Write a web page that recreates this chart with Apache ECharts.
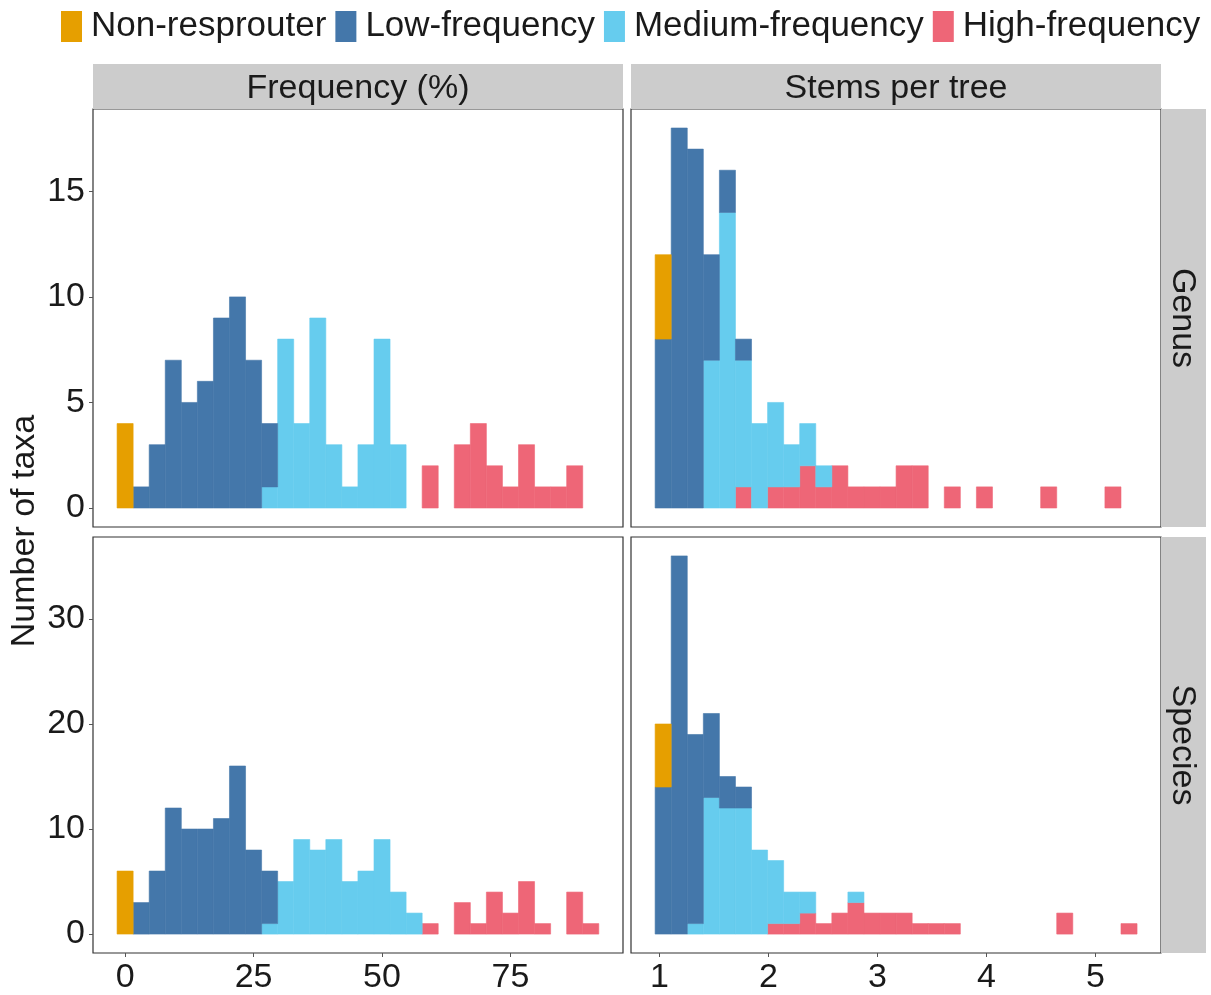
<!DOCTYPE html>
<html>
<head>
<meta charset="utf-8">
<title>Resprouting histograms</title>
<script src="https://cdn.jsdelivr.net/npm/echarts@6/dist/echarts.min.js"></script>
<style>
  html, body { margin: 0; padding: 0; background: #fff; }
  #main { width: 1211px; height: 995px; }
</style>
</head>
<body>
<div id="main"></div>
<script>
var groups = ['Non-resprouter', 'Low-frequency', 'Medium-frequency', 'High-frequency'];
var groupColors = ['#E69F00', '#4477AA', '#66CCEE', '#EE6677'];
var colLabels = ['Frequency (%)', 'Stems per tree'];
var rowLabels = ['Genus', 'Species'];
var freqTicks = [0, 25, 50, 75];
var stemTicks = [1, 2, 3, 4, 5];
var genusTicks = [0, 5, 10, 15];
var speciesTicks = [0, 10, 20, 30];

// 30 bins per panel: centre of the first bin and bin width
var freqBinStart = 0, freqBinWidth = 3.125;
var stemBinStart = 1.035, stemBinWidth = 0.1473;

// Genus, Frequency (%)
var genusFreqNon  = [4,0,0,0,0,0,0,0,0,0, 0,0,0,0,0,0,0,0,0,0, 0,0,0,0,0,0,0,0,0,0];
var genusFreqLow  = [0,1,3,7,5,6,9,10,7,3, 0,0,0,0,0,0,0,0,0,0, 0,0,0,0,0,0,0,0,0,0];
var genusFreqMed  = [0,0,0,0,0,0,0,0,0,1, 8,4,9,3,1,3,8,3,0,0, 0,0,0,0,0,0,0,0,0,0];
var genusFreqHigh = [0,0,0,0,0,0,0,0,0,0, 0,0,0,0,0,0,0,0,0,2, 0,3,4,2,1,3,1,1,2,0];

// Genus, Stems per tree
var genusStemNon  = [4,0,0,0,0,0,0,0,0,0, 0,0,0,0,0,0,0,0,0,0, 0,0,0,0,0,0,0,0,0,0];
var genusStemLow  = [8,18,17,5,2,1,0,0,0,0, 0,0,0,0,0,0,0,0,0,0, 0,0,0,0,0,0,0,0,0,0];
var genusStemMed  = [0,0,0,7,14,6,4,4,2,2, 1,0,0,0,0,0,0,0,0,0, 0,0,0,0,0,0,0,0,0,0];
var genusStemHigh = [0,0,0,0,0,1,0,1,1,2, 1,2,1,1,1,2,2,0,1,0, 1,0,0,0,1,0,0,0,1,0];

// Species, Frequency (%)
var speciesFreqNon  = [6,0,0,0,0,0,0,0,0,0, 0,0,0,0,0,0,0,0,0,0, 0,0,0,0,0,0,0,0,0,0];
var speciesFreqLow  = [0,3,6,12,10,10,11,16,8,5, 0,0,0,0,0,0,0,0,0,0, 0,0,0,0,0,0,0,0,0,0];
var speciesFreqMed  = [0,0,0,0,0,0,0,0,0,1, 5,9,8,9,5,6,9,4,2,0, 0,0,0,0,0,0,0,0,0,0];
var speciesFreqHigh = [0,0,0,0,0,0,0,0,0,0, 0,0,0,0,0,0,0,0,0,1, 0,3,1,4,2,5,1,0,4,1];

// Species, Stems per tree
var speciesStemNon  = [6,0,0,0,0,0,0,0,0,0, 0,0,0,0,0,0,0,0,0,0, 0,0,0,0,0,0,0,0,0,0];
var speciesStemLow  = [14,36,18,8,3,2,0,0,0,0, 0,0,0,0,0,0,0,0,0,0, 0,0,0,0,0,0,0,0,0,0];
var speciesStemMed  = [0,0,1,13,12,12,8,6,3,2, 0,0,1,0,0,0,0,0,0,0, 0,0,0,0,0,0,0,0,0,0];
var speciesStemHigh = [0,0,0,0,0,0,0,1,1,2, 1,2,3,2,2,2,1,1,1,0, 0,0,0,0,0,2,0,0,0,1];

var FONT = '"Liberation Sans", Arial, sans-serif';
var TEXT_COLOR = '#1a1a1a';

var panels = [
    {counts: [genusFreqNon, genusFreqLow, genusFreqMed, genusFreqHigh], start: freqBinStart, width: freqBinWidth},
    {counts: [genusStemNon, genusStemLow, genusStemMed, genusStemHigh], start: stemBinStart, width: stemBinWidth},
    {counts: [speciesFreqNon, speciesFreqLow, speciesFreqMed, speciesFreqHigh], start: freqBinStart, width: freqBinWidth},
    {counts: [speciesStemNon, speciesStemLow, speciesStemMed, speciesStemHigh], start: stemBinStart, width: stemBinWidth}
];

var grids = [
    {left: 93, top: 109, width: 530, height: 418},
    {left: 631, top: 109, width: 530, height: 418},
    {left: 93, top: 537, width: 530, height: 416},
    {left: 631, top: 537, width: 530, height: 416}
];
grids.forEach(function (g) {
    g.show = true;
    g.borderColor = '#333333';
    g.borderWidth = 1.2;
    g.backgroundColor = '#ffffff';
});

function makeRender(w) {
    return function (params, api) {
        var c = api.value(0), n = api.value(1), b = api.value(2);
        var p0 = api.coord([c - w / 2, b + n]);
        var p1 = api.coord([c + w / 2, b]);
        var color = api.visual('color');
        return {
            type: 'rect',
            shape: {x: p0[0], y: p0[1], width: p1[0] - p0[0], height: p1[1] - p0[1]},
            style: {fill: color, stroke: color, lineWidth: 0.6}
        };
    };
}

// stack from the bottom: High, Medium, Low, Non-resprouter on top
var series = [];
panels.forEach(function (panel, p) {
    var base = panel.counts[0].map(function () { return 0; });
    [3, 2, 1, 0].forEach(function (g) {
        var data = [];
        panel.counts[g].forEach(function (n, i) {
            if (n > 0) {
                data.push([panel.start + i * panel.width, n, base[i]]);
            }
            base[i] += n;
        });
        series.push({
            name: groups[g],
            type: 'custom',
            xAxisIndex: p,
            yAxisIndex: p,
            itemStyle: {color: groupColors[g]},
            encode: {x: 0, y: 1},
            renderItem: makeRender(panel.width),
            data: data
        });
    });
});

function axisFor(p, min, max, ticks, showLabels, margin) {
    return {
        type: 'value',
        gridIndex: p,
        min: min,
        max: max,
        axisLine: {show: false, onZero: false},
        splitLine: {show: false},
        axisTick: {show: showLabels, length: 4, lineStyle: {color: '#555', width: 1}, customValues: ticks},
        axisLabel: {show: showLabels, customValues: ticks, margin: margin, fontSize: 34, color: TEXT_COLOR, fontFamily: FONT}
    };
}

function stripText(text, x, y, rotation) {
    return {
        type: 'text',
        x: x,
        y: y,
        rotation: rotation || 0,
        style: {
            text: text,
            x: 0,
            y: 0,
            fill: TEXT_COLOR,
            font: '34px ' + FONT,
            align: 'center',
            verticalAlign: 'middle',
            textAlign: 'center',
            textVerticalAlign: 'middle'
        }
    };
}

var stripFill = {fill: '#CCCCCC'};

var option = {
    animation: false,
    backgroundColor: '#ffffff',
    legend: {
        data: groups,
        left: 61,
        top: 9,
        padding: 0,
        icon: 'rect',
        itemWidth: 21,
        itemHeight: 31,
        itemGap: 9,
        textStyle: {fontSize: 35, color: TEXT_COLOR, fontFamily: FONT, padding: [0, 0, 0, 4]}
    },
    grid: grids,
    xAxis: [
        axisFor(0, -6.25, 96.9, freqTicks, false, 8),
        axisFor(1, 0.74, 5.60, stemTicks, false, 8),
        axisFor(2, -6.25, 96.9, freqTicks, true, 8),
        axisFor(3, 0.74, 5.60, stemTicks, true, 8)
    ],
    yAxis: [
        axisFor(0, -0.9, 18.9, genusTicks, true, 8),
        axisFor(1, -0.9, 18.9, genusTicks, false, 8),
        axisFor(2, -1.8, 37.8, speciesTicks, true, 8),
        axisFor(3, -1.8, 37.8, speciesTicks, false, 8)
    ],
    graphic: [
        {type: 'rect', shape: {x: 93, y: 64, width: 530, height: 45}, style: stripFill},
        {type: 'rect', shape: {x: 631, y: 64, width: 530, height: 45}, style: stripFill},
        {type: 'rect', shape: {x: 1161, y: 109, width: 45, height: 418}, style: stripFill},
        {type: 'rect', shape: {x: 1161, y: 537, width: 45, height: 416}, style: stripFill},
        stripText(colLabels[0], 358, 89),
        stripText(colLabels[1], 896, 89),
        stripText(rowLabels[0], 1182, 318, -Math.PI / 2),
        stripText(rowLabels[1], 1182, 745, -Math.PI / 2),
        stripText('Number of taxa', 25, 531, Math.PI / 2)
    ],
    series: series
};

var myChart = echarts.init(document.getElementById('main'));
myChart.setOption(option);
</script>
</body>
</html>
